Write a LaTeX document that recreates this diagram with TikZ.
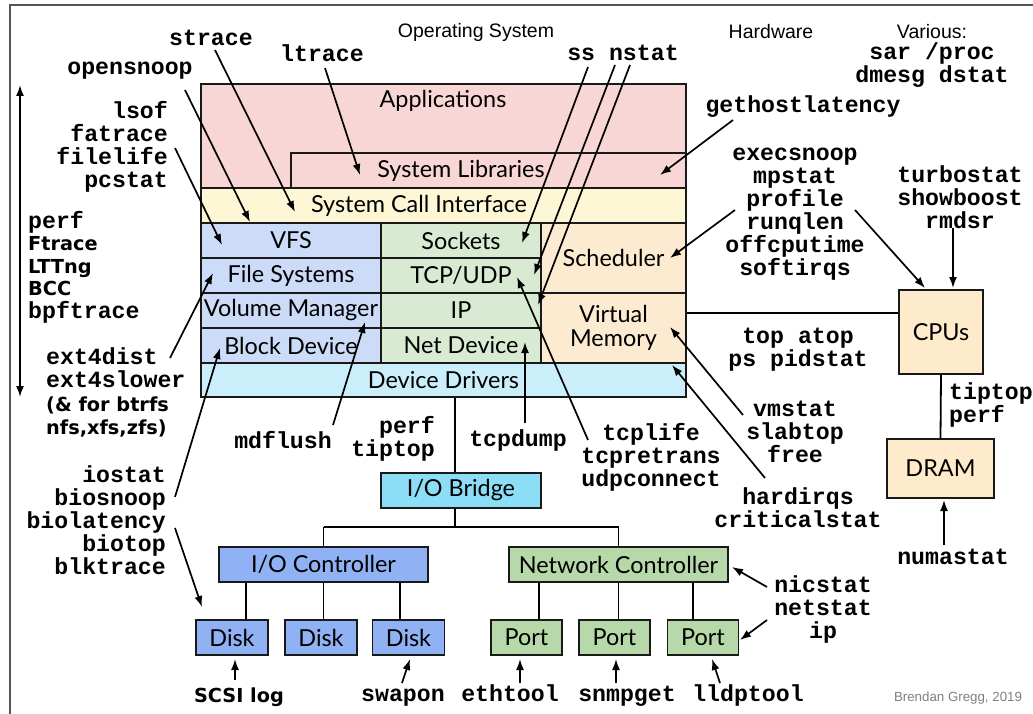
\documentclass[tikz,border=0pt]{standalone}
\usepackage{fontspec}
\setmainfont{Lato}
\newfontfamily\lhdr{Liberation Sans}
\newfontfamily\lmono{Liberation Mono}
\newfontfamily\dvsans{DejaVu Sans}
\usetikzlibrary{arrows.meta}
\definecolor{cApps}{HTML}{F9D6D6}
\definecolor{cSci}{HTML}{FDF7D6}
\definecolor{cBlue}{HTML}{CCDCF8}
\definecolor{cGreen}{HTML}{D9EAD3}
\definecolor{cPeach}{HTML}{FDEBD1}
\definecolor{cDrv}{HTML}{CBEEFB}
\definecolor{cBridge}{HTML}{8CDDF6}
\definecolor{cCtl}{HTML}{90B2F4}
\definecolor{cNet}{HTML}{B7D8A9}
\definecolor{cHw}{HTML}{FDEBCB}
\definecolor{cFrame}{HTML}{555555}
\tikzset{
  blk/.style={draw=black!90, line width=1.6pt, inner sep=0pt, align=center,
    font=\fontsize{23.4}{23.5}\selectfont},
  lbl/.style={inner sep=0pt, align=center, font=\fontsize{23.4}{23.5}\selectfont},
  tool/.style={inner sep=0pt, align=center, font=\lmono\bfseries\fontsize{23.2}{23}\selectfont},
  toolsf/.style={inner sep=0pt, font=\dvsans\bfseries\fontsize{19.3}{22.5}\selectfont},
  hdr/.style={inner sep=0pt, font=\lhdr\fontsize{19.5}{22}\selectfont},
  arr/.style={-{Latex[length=11pt,width=8pt]}, line width=1.7pt},
  wire/.style={line width=1.8pt, draw=black},
}
\begin{document}
\begin{tikzpicture}[x=1pt,y=-1pt]
\useasboundingbox (0,0) rectangle (1033,714);
\fill[white] (0,0) rectangle (1033,714);
\draw[cFrame, line width=2pt] (1040,5) -- (10,5) -- (10,720);

% ---------- OS stack ----------
\node[blk, fill=cApps, minimum width=485pt, minimum height=104pt] (apps) at (443.5,136) {};
\node[lbl] (appst) at (443,101) {Applications};
\node[blk, fill=cApps, minimum width=395pt, minimum height=35pt] (syslib) at (488.5,170.5) {};
\node[lbl] (syslibt) at (461,171) {System Libraries};
\node[blk, fill=cSci, minimum width=485pt, minimum height=35pt] (sci) at (443.5,205.5) {};
\node[lbl] (scit) at (419,206) {System Call Interface};
\node[blk, fill=cBlue, minimum width=180pt, minimum height=35pt] (vfs) at (291,240.5) {VFS};
\node[blk, fill=cBlue, minimum width=180pt, minimum height=35pt] (fs) at (291,275.5) {File Systems};
\node[blk, fill=cBlue, minimum width=180pt, minimum height=35pt] (volm) at (291,310.5) {Volume Manager};
\node[blk, fill=cBlue, minimum width=180pt, minimum height=35pt] (bdev) at (291,345.5) {Block Device};
\node[blk, fill=cGreen, minimum width=160pt, minimum height=35pt] (sock) at (461,240.5) {Sockets};
\node[blk, fill=cGreen, minimum width=160pt, minimum height=35pt] (tcp) at (461,275.5) {TCP/UDP};
\node[blk, fill=cGreen, minimum width=160pt, minimum height=35pt] (ip) at (461,310.5) {IP};
\node[blk, fill=cGreen, minimum width=160pt, minimum height=35pt] (ndev) at (461,345.5) {Net Device};
\node[blk, fill=cPeach, minimum width=145pt, minimum height=70pt] (sched) at (613.5,258) {Scheduler};
\node[blk, fill=cPeach, minimum width=145pt, minimum height=70pt] (virt) at (613.5,328) {Virtual\\Memory};
\node[blk, fill=cDrv, minimum width=485pt, minimum height=34pt] (ddrv) at (443.5,380) {Device Drivers};

% ---------- hardware ----------
\node[blk, fill=cBridge, minimum width=160pt, minimum height=35pt] (iob) at (461,490.5) {I/O Bridge};
\node[blk, fill=cCtl, minimum width=209pt, minimum height=35pt] (ioc) at (323.5,564.5) {I/O Controller};
\node[blk, fill=cNet, minimum width=219pt, minimum height=35pt] (nc) at (618.5,564.5) {Network Controller};
\node[blk, fill=cCtl, minimum width=72pt, minimum height=35pt] (disk1) at (232,637.5) {Disk};
\node[blk, fill=cCtl, minimum width=72pt, minimum height=35pt] (disk2) at (321,637.5) {Disk};
\node[blk, fill=cCtl, minimum width=72pt, minimum height=35pt] (disk3) at (408.5,637.5) {Disk};
\node[blk, fill=cNet, minimum width=71pt, minimum height=35pt] (port1) at (526.5,637.5) {Port};
\node[blk, fill=cNet, minimum width=71pt, minimum height=35pt] (port2) at (614.5,637.5) {Port};
\node[blk, fill=cNet, minimum width=71pt, minimum height=35pt] (port3) at (703,637.5) {Port};
\node[blk, fill=cHw, minimum width=84pt, minimum height=84pt] (cpus) at (941,332) {CPUs};
\node[blk, fill=cHw, minimum width=107pt, minimum height=59pt] (dram) at (940.5,468.5) {DRAM};

% ---------- wires ----------
\coordinate (busx) at (455,0);
\coordinate (busy) at (0,527);
\draw[wire] (ddrv.south -| busx) -- (iob.north -| busx);
\draw[wire] (iob.south -| busx) -- (busx |- busy);
\draw[wire] (ioc.north |- busy) -- (ioc.north);
\draw[wire] (ioc.north |- busy) -- (nc.north |- busy) -- (nc.north);
\coordinate (d1x) at (246,0);
\coordinate (d3x) at (400,0);
\draw[wire] (ioc.south -| d1x) -- (disk1.north -| d1x);
\draw[wire] (ioc.south) -- (ioc.south |- disk2.north);
\draw[wire] (ioc.south -| d3x) -- (disk3.north -| d3x);
\coordinate (p1x) at (539,0);
\coordinate (p3x) at (693,0);
\draw[wire] (nc.south -| p1x) -- (port1.north -| p1x);
\draw[wire] (nc.south) -- (nc.south |- port2.north);
\draw[wire] (nc.south -| p3x) -- (port3.north -| p3x);
\coordinate (cpuy) at (0,313);
\draw[wire] (virt.east |- cpuy) -- (cpus.west |- cpuy);
\draw[wire] (cpus.south) -- (dram.north);

% ---------- headers ----------
\node[hdr] (os) at (476,32) {Operating System};
\node[hdr] (hw) at (771,32) {Hardware};
\node[hdr] (various) at (932,32) {Various:};
\node[tool] (sar) at (932,65) {sar /proc\\dmesg dstat};
\node[inner sep=0pt, font=\lhdr\fontsize{13.3}{16}\selectfont, text=black!50] (credit) at (958,698) {Brendan Gregg, 2019};

% ---------- tool labels ----------
\node[tool] (strace) at (211,38) {strace};
\node[tool] (ltrace) at (322,53) {ltrace};
\node[tool] (opensnoop) at (130,71) {opensnoop};
\node[tool, align=right, anchor=east] (lsof) at (168,147) {lsof\\fatrace\\filelife\\pcstat};
\node[inner sep=0pt, align=left, anchor=west, font=\fontsize{19.3}{22.5}\selectfont] (perfgrp) at (28,267)
  {{\lmono\bfseries\fontsize{23.2}{22.5}\selectfont perf}\\{\dvsans\bfseries Ftrace}\\{\dvsans\bfseries LTTng}\\{\dvsans\bfseries BCC}\\{\lmono\bfseries\fontsize{23.2}{22.5}\selectfont bpftrace}};
\node[inner sep=0pt, align=left, anchor=west, font=\fontsize{19.3}{23.5}\selectfont] (ext4) at (46,392.5)
  {{\lmono\bfseries\fontsize{23.2}{23.5}\selectfont ext4dist}\\{\lmono\bfseries\fontsize{23.2}{23.5}\selectfont ext4slower}\\{\dvsans\bfseries (\& for btrfs}\\{\dvsans\bfseries nfs,xfs,zfs)}};
\node[tool] (mdflush) at (283,440) {mdflush};
\node[tool, align=right, anchor=east] (iostat) at (166,520.5) {iostat\\biosnoop\\biolatency\\biotop\\blktrace};
\node[toolsf, anchor=base] (scsi) at (239,702) {SCSI log};
\node[tool, anchor=base] (swapon) at (403,701) {swapon};
\node[tool, anchor=base] (ethtool) at (510,701) {ethtool};
\node[tool, anchor=base] (snmpget) at (627,701) {snmpget};
\node[tool, anchor=base] (lldptool) at (748,701) {lldptool};
\node[tool, align=right, anchor=east] (perftip) at (435,439) {perf\\tiptop};
\node[tool] (tcpdump) at (518,440) {tcpdump};
\node[tool] (tcplife) at (651,457) {tcplife\\tcpretrans\\udpconnect};
\node[tool] (hardirqs) at (798,508) {hardirqs\\criticalstat};
\node[tool] (vmstat) at (795,432) {vmstat\\slabtop\\free};
\node[tool] (top) at (798,350) {top atop\\ps pidstat};
\node[tool] (execsnoop) at (795,214.5) {execsnoop\\mpstat\\profile\\runqlen\\offcputime\\softirqs};
\node[tool] (gethost) at (803,107) {gethostlatency};
\node[tool] (turbo) at (960,197.5) {turbostat\\showboost\\rmdsr};
\node[tool, align=left, anchor=west] (tiptop) at (949,404.5) {tiptop\\perf};
\node[tool] (numastat) at (953,557) {numastat};
\node[tool] (nicstat) at (823,609) {nicstat\\netstat\\ip};
\node[tool] (ssn) at (623,53) {ss nstat};

% ---------- arrows ----------
\coordinate (lrTop) at (20,85);
\coordinate (lrBot) at (20,397);
\draw[{Latex[length=11pt,width=8pt]}-{Latex[length=11pt,width=8pt]}, line width=1.7pt] (lrTop) -- (lrBot);

\coordinate (a1s) at (215,50);  \coordinate (a1t) at (295,212);
\coordinate (a2s) at (185,90);  \coordinate (a2t) at (250,222);
\coordinate (a3s) at (175,148); \coordinate (a3t) at (222,245);
\coordinate (a4s) at (325,68);  \coordinate (a4t) at (360,175);
\coordinate (a5s) at (588,67);  \coordinate (a5t) at (522,243);
\coordinate (a6s) at (615,65);  \coordinate (a6t) at (534,275);
\coordinate (a7s) at (630,65);  \coordinate (a7t) at (538,305);
\coordinate (a8s) at (733,120); \coordinate (a8t) at (660,175);
\coordinate (a9s) at (735,210); \coordinate (a9t) at (670,258);
\coordinate (b1s) at (855,210); \coordinate (b1t) at (925,288);
\coordinate (b2s) at (953,228); \coordinate (b2t) at (953,288);
\coordinate (b3s) at (743,415); \coordinate (b3t) at (670,327);
\coordinate (b4s) at (765,478); \coordinate (b4t) at (672,365);
\coordinate (b5s) at (588,440); \coordinate (b5t) at (517,277);
\coordinate (b6s) at (525,423); \coordinate (b6t) at (525,342);
\coordinate (b7s) at (333,425); \coordinate (b7t) at (365,322);
\coordinate (b8s) at (170,358); \coordinate (b8t) at (213,273);
\coordinate (b9s) at (175,497); \coordinate (b9t) at (220,348);
\coordinate (c1s) at (175,528); \coordinate (c1t) at (202,607);
\coordinate (c2s) at (235,680); \coordinate (c2t) at (235,659);
\coordinate (c3s) at (402,683); \coordinate (c3t) at (410,659);
\coordinate (c4s) at (520,683); \coordinate (c4t) at (520,659);
\coordinate (c5s) at (616,683); \coordinate (c5t) at (616,659);
\coordinate (c6s) at (720,683); \coordinate (c6t) at (712,659);
\coordinate (c7s) at (767,587); \coordinate (c7t) at (732,567);
\coordinate (c8s) at (767,620); \coordinate (c8t) at (740,640);
\coordinate (c9s) at (944,545); \coordinate (c9t) at (944,500);
\foreach \p in {a1,a2,a3,a4,a5,a6,a7,a8,a9,b1,b2,b3,b4,b5,b6,b7,b8,b9,c1,c2,c3,c4,c5,c6,c7,c8,c9}
  \draw[arr] (\p s) -- (\p t);
\end{tikzpicture}
\end{document}
